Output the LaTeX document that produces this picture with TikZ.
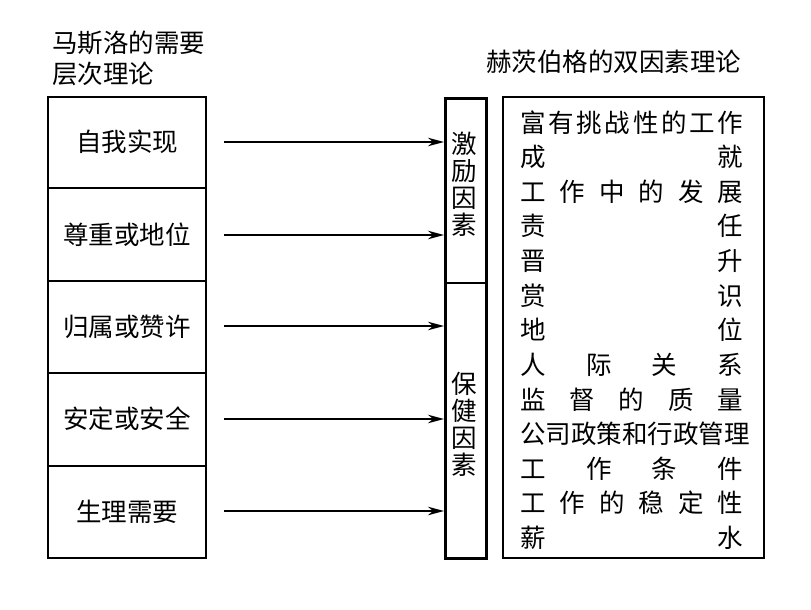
\documentclass[tikz,border=0pt]{standalone}
\usepackage{fontspec}
\setmainfont{Noto Sans CJK SC}
\usetikzlibrary{arrows.meta}
\tikzset{
  outer/.style={line width=2.6pt},
  inner/.style={line width=1.7pt},
  lbl/.style={inner sep=0pt, font=\fontsize{25.5}{31}\selectfont},
  vlbl/.style={inner sep=0pt, align=center, font=\fontsize{25.5}{27}\selectfont},
  arr/.style={line width=1.7pt, -{Stealth[length=16pt,width=8.5pt,inset=5pt]}},
  row/.style={inner sep=0pt, anchor=west, font=\fontsize{25.5}{31}\selectfont}
}
\newcommand{\spr}[1]{\hbox to 223pt{#1}}
\begin{document}
\begin{tikzpicture}[x=1pt,y=-1pt]
\useasboundingbox (0,0) rectangle (811,610);
% titles
\node[lbl, anchor=west] (t1) at (52,43) {马斯洛的需要};
\node[lbl, anchor=west] (t2) at (52,74) {层次理论};
\node[lbl] (t3) at (613.5,62) {赫茨伯格的双因素理论};
% left box
\draw[outer] (48,97) rectangle (206,558);
\foreach \yy in {188,281,373,466} \draw[inner] (48,\yy) -- (206,\yy);
\node[lbl] (m1) at (127,142) {自我实现};
\node[lbl] (m2) at (127,235) {尊重或地位};
\node[lbl] (m3) at (127,327) {归属或赞许};
\node[lbl] (m4) at (127,419) {安定或安全};
\node[lbl] (m5) at (127,512) {生理需要};
% middle box
\node[draw, outer, minimum width=41pt, minimum height=460pt, inner sep=0pt, anchor=north west] (mid) at (444,97) {};
\draw[inner] (444,283) -- (485,283);
\node[vlbl] (f1) at (464.5,184) {激\\励\\因\\素};
\node[vlbl] (f2) at (464.5,424) {保\\健\\因\\素};
% arrows
\foreach \i/\yy in {1/142,2/235,3/326,4/419,5/511} {
  \coordinate (a\i) at (224,\yy);
  \draw[arr] (a\i) -- (a\i -| mid.west);
}
% right box
\node[draw, inner, minimum width=261pt, minimum height=461pt, inner sep=0pt, anchor=north west] (rbox) at (502,96) {};
\node[row] (r1) at (520,122.5) {\spr{富\hfill 有\hfill 挑\hfill 战\hfill 性\hfill 的\hfill 工\hfill 作}};
\node[row] (r2) at (520,157.1) {\spr{成\hfill 就}};
\node[row] (r3) at (520,191.7) {\spr{工\hfill 作\hfill 中\hfill 的\hfill 发\hfill 展}};
\node[row] (r4) at (520,226.3) {\spr{责\hfill 任}};
\node[row] (r5) at (520,260.9) {\spr{晋\hfill 升}};
\node[row] (r6) at (520,295.5) {\spr{赏\hfill 识}};
\node[row] (r7) at (520,330.1) {\spr{地\hfill 位}};
\node[row] (r8) at (520,364.7) {\spr{人\hfill 际\hfill 关\hfill 系}};
\node[row] (r9) at (520,399.3) {\spr{监\hfill 督\hfill 的\hfill 质\hfill 量}};
\node[row] (r10) at (520,433.9) {公司政策和行政管理};
\node[row] (r11) at (520,468.5) {\spr{工\hfill 作\hfill 条\hfill 件}};
\node[row] (r12) at (520,503.1) {\spr{工\hfill 作\hfill 的\hfill 稳\hfill 定\hfill 性}};
\node[row] (r13) at (520,537.7) {\spr{薪\hfill 水}};
\end{tikzpicture}
\end{document}
